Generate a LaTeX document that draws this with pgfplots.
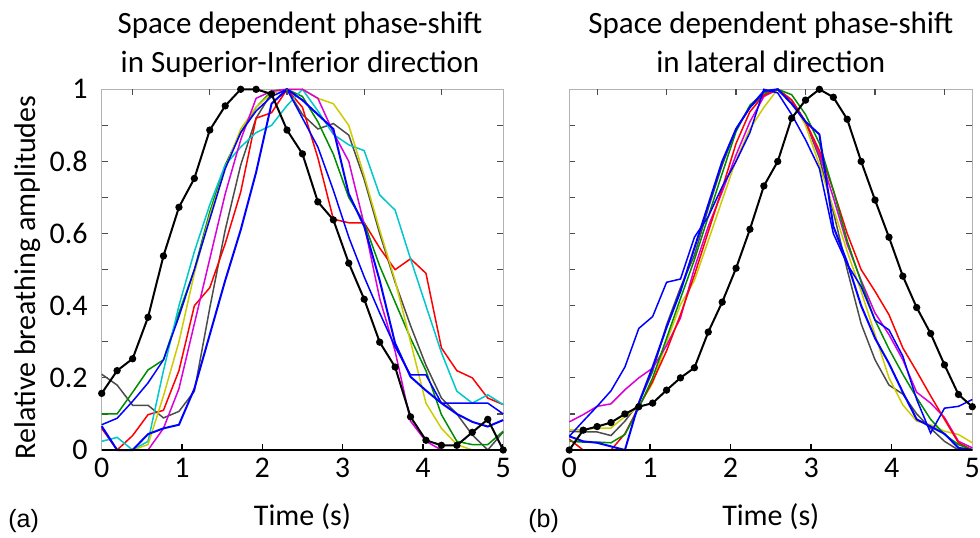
\documentclass[border=0pt]{standalone}
\usepackage{pgfplots}
\pgfplotsset{compat=1.18}
\usepackage{pgfplotstable}
\usepackage{fontspec}
\setmainfont{Carlito}
\newfontfamily\arialfont{Liberation Sans}
\definecolor{mred}{rgb}{1,0,0}
\definecolor{mgreen}{rgb}{0,0.55,0}
\definecolor{mblue}{rgb}{0,0,1}
\definecolor{mcyan}{rgb}{0,0.78,0.8}
\definecolor{mmag}{rgb}{0.85,0,0.85}
\definecolor{myel}{rgb}{0.8,0.8,0}
\definecolor{mgray}{rgb}{0.3,0.3,0.3}

\pgfplotstableread{
t k g r gr ba bb c m y
0.000 0.157 0.210 0.060 0.100 0.066 0.070 0.024 0.000 0.000
0.192 0.220 0.180 0.000 0.100 0.000 0.088 0.035 0.000 0.000
0.385 0.253 0.124 0.040 0.160 0.000 0.135 0.000 0.000 0.000
0.577 0.368 0.124 0.098 0.222 0.044 0.186 0.024 0.000 0.015
0.769 0.538 0.089 0.110 0.250 0.060 0.250 0.220 0.060 0.150
0.962 0.673 0.107 0.220 0.380 0.070 0.370 0.400 0.170 0.300
1.154 0.753 0.163 0.400 0.500 0.170 0.500 0.550 0.350 0.490
1.346 0.887 0.394 0.450 0.660 0.320 0.640 0.680 0.530 0.650
1.538 0.954 0.610 0.572 0.790 0.470 0.780 0.790 0.710 0.780
1.731 1.000 0.790 0.715 0.880 0.610 0.880 0.840 0.860 0.890
1.923 1.000 0.920 0.920 0.950 0.770 0.940 0.880 0.975 0.950
2.115 0.987 0.990 0.935 0.995 0.960 0.980 0.900 0.995 0.990
2.308 0.887 1.000 1.000 1.000 1.000 1.000 0.955 1.000 1.000
2.500 0.821 0.930 0.950 0.980 0.970 0.920 1.000 1.000 1.000
2.692 0.688 0.890 0.810 0.910 0.930 0.840 0.940 0.975 0.975
2.885 0.638 0.905 0.640 0.820 0.890 0.720 0.875 0.880 0.960
3.077 0.518 0.873 0.630 0.700 0.710 0.590 0.846 0.800 0.900
3.269 0.418 0.750 0.630 0.630 0.620 0.480 0.830 0.625 0.760
3.462 0.299 0.600 0.560 0.510 0.470 0.380 0.707 0.420 0.610
3.654 0.230 0.465 0.500 0.410 0.296 0.286 0.665 0.274 0.470
3.846 0.092 0.345 0.530 0.310 0.203 0.208 0.530 0.080 0.300
4.038 0.027 0.235 0.490 0.220 0.165 0.208 0.400 0.024 0.130
4.231 0.013 0.144 0.283 0.098 0.130 0.130 0.270 0.000 0.060
4.423 0.013 0.100 0.220 0.024 0.100 0.130 0.163 0.000 0.015
4.615 0.049 0.042 0.200 0.015 0.078 0.130 0.130 0.000 0.000
4.808 0.085 0.000 0.144 0.015 0.065 0.130 0.153 0.000 0.000
5.000 0.000 0.050 0.126 0.052 0.083 0.100 0.126 0.000 0.000
}\leftdata

\pgfplotstableread{
t k g r gr ba bb m y
0.000 0.000 0.052 0.030 0.024 0.038 0.038 0.078 0.056
0.172 0.055 0.050 0.000 0.022 0.024 0.080 0.098 0.056
0.345 0.065 0.050 0.000 0.022 0.020 0.121 0.121 0.061
0.517 0.076 0.040 0.000 0.020 0.010 0.164 0.128 0.061
0.690 0.100 0.080 0.045 0.043 0.000 0.230 0.167 0.093
0.862 0.120 0.130 0.120 0.116 0.130 0.337 0.200 0.120
1.034 0.130 0.218 0.190 0.200 0.230 0.370 0.227 0.186
1.207 0.166 0.347 0.275 0.310 0.340 0.465 0.290 0.300
1.379 0.200 0.450 0.375 0.420 0.440 0.474 0.366 0.403
1.552 0.228 0.540 0.485 0.527 0.560 0.590 0.504 0.470
1.724 0.327 0.670 0.605 0.647 0.680 0.647 0.620 0.580
1.897 0.410 0.790 0.725 0.767 0.800 0.730 0.716 0.693
2.069 0.504 0.890 0.850 0.883 0.890 0.800 0.818 0.804
2.241 0.612 0.950 0.938 0.956 0.950 0.880 0.910 0.890
2.414 0.732 0.985 0.984 0.990 0.995 1.000 0.980 0.950
2.586 0.800 1.000 1.000 1.000 1.000 0.990 1.000 1.000
2.759 0.920 0.970 0.970 0.985 0.960 0.930 0.970 0.970
2.931 0.970 0.910 0.910 0.930 0.910 0.860 0.910 0.900
3.103 1.000 0.810 0.830 0.850 0.875 0.780 0.820 0.790
3.276 0.978 0.660 0.720 0.720 0.620 0.600 0.700 0.670
3.448 0.917 0.500 0.600 0.580 0.520 0.515 0.570 0.550
3.621 0.800 0.350 0.500 0.465 0.400 0.453 0.470 0.440
3.793 0.693 0.250 0.440 0.360 0.310 0.360 0.380 0.320
3.966 0.590 0.180 0.375 0.280 0.240 0.333 0.320 0.200
4.138 0.482 0.155 0.283 0.210 0.160 0.260 0.250 0.125
4.310 0.395 0.100 0.218 0.145 0.085 0.140 0.160 0.080
4.483 0.323 0.060 0.150 0.085 0.065 0.047 0.130 0.070
4.655 0.236 0.024 0.085 0.043 0.045 0.116 0.090 0.052
4.828 0.154 0.000 0.020 0.015 0.006 0.121 0.024 0.043
5.000 0.120 0.000 0.000 0.000 0.000 0.140 0.006 0.020
}\rightdata

\pgfplotsset{
  panel/.style={
    scale only axis, height=180.35pt,
    xmin=0, xmax=5, ymin=0, ymax=1,
    xtick={0,1,2,3,4,5},
    ytick={0,0.2,0.4,0.6,0.8,1},
    minor ytick={0.1,0.3,0.5,0.7,0.9},
    xtick pos=bottom,
    tick align=inside,
    major tick length=3pt, minor tick length=3pt,
    axis line style={gray!60, line width=0.6pt},
    tick style={gray!60!black, line width=0.6pt},
    xtick style={black, line width=0.7pt},
    every tick label/.append style={font=\fontsize{15}{18}\selectfont},
    /pgf/number format/assume math mode=true,
    xticklabel style={anchor=base, yshift=-13.5pt},
    yticklabel style={anchor=east, inner xsep=0pt, xshift=-6.8pt},
    clip=false,
  },
  topticks/.style={
    scale only axis, height=180.35pt,
    xmin=0, xmax=5, ymin=0, ymax=1,
    axis x line*=top, axis y line=none,
    xticklabels={}, tick align=inside, major tick length=3pt,
    tick style={gray!60!black, line width=0.6pt},
    axis line style={draw=none},
  },
  cl/.style={line width=0.75pt, mark=none},
  dl/.style={black, line width=1pt, mark=*, mark size=1.3pt, mark options={fill=black}},
}

\begin{document}
\begin{tikzpicture}
\useasboundingbox (0,0) rectangle (490pt,268.5pt);

% ---------- panel (a) ----------
\begin{axis}[panel, width=200.75pt, at={(50.85pt,43.5pt)}, anchor=south west]
\addplot[mgray, cl] table[x=t, y=g] {\leftdata};
\addplot[mred, cl] table[x=t, y=r] {\leftdata};
\addplot[mgreen, cl] table[x=t, y=gr] {\leftdata};
\addplot[mcyan, cl] table[x=t, y=c] {\leftdata};
\addplot[myel, cl] table[x=t, y=y] {\leftdata};
\addplot[mmag, cl] table[x=t, y=m] {\leftdata};
\addplot[mblue, cl] table[x=t, y=bb] {\leftdata};
\addplot[mblue, line width=1pt] table[x=t, y=ba] {\leftdata};
\addplot[dl] table[x=t, y=k] {\leftdata};
\addplot[black, line width=1.2pt] coordinates {(0,0) (5,0)};
\end{axis}
\begin{axis}[topticks, width=200.75pt, at={(50.85pt,43.5pt)}, anchor=south west,
  xtick={0.385,1.346,2.308,3.269,4.231}]
\end{axis}

% ---------- panel (b) ----------
\begin{axis}[panel, width=201.5pt, at={(284.65pt,43.5pt)}, anchor=south west, yticklabels={}]
\addplot[mgray, cl] table[x=t, y=g] {\rightdata};
\addplot[myel, cl] table[x=t, y=y] {\rightdata};
\addplot[mmag, cl] table[x=t, y=m] {\rightdata};
\addplot[mred, cl] table[x=t, y=r] {\rightdata};
\addplot[mgreen, cl] table[x=t, y=gr] {\rightdata};
\addplot[mblue, cl] table[x=t, y=bb] {\rightdata};
\addplot[mblue, line width=1pt] table[x=t, y=ba] {\rightdata};
\addplot[dl] table[x=t, y=k] {\rightdata};
\addplot[black, line width=1.2pt] coordinates {(0,0) (5,0)};
\end{axis}
\begin{axis}[topticks, width=201.5pt, at={(284.65pt,43.5pt)}, anchor=south west,
  xtick={0.345,1.207,2.069,2.931,3.793,4.655}]
\end{axis}

% ---------- texts ----------
\node[anchor=base, font=\fontsize{15.5}{19}\selectfont] at (150pt,251.5pt) {Space dependent phase-shift};
\node[anchor=base, font=\fontsize{15.5}{19}\selectfont] at (150pt,232.5pt) {in Superior-Inferior direction};
\node[anchor=base, font=\fontsize{15.5}{19}\selectfont] at (385.4pt,251.5pt) {Space dependent phase-shift};
\node[anchor=base, font=\fontsize{15.5}{19}\selectfont] at (385.4pt,232.5pt) {in lateral direction};
\node[rotate=90, anchor=center, font=\fontsize{15}{18}\selectfont] at (14pt,129.75pt) {Relative breathing amplitudes};
\node[anchor=base, font=\fontsize{15}{18}\selectfont] at (151.25pt,6pt) {Time (s)};
\node[anchor=base, font=\fontsize{15}{18}\selectfont] at (385.4pt,6pt) {Time (s)};
\node[anchor=base west, inner sep=0pt, font=\arialfont\fontsize{12.5}{15}\selectfont] at (4pt,5pt) {(a)};
\node[anchor=base west, inner sep=0pt, font=\arialfont\fontsize{12.5}{15}\selectfont] at (264pt,5pt) {(b)};
\end{tikzpicture}
\end{document}
